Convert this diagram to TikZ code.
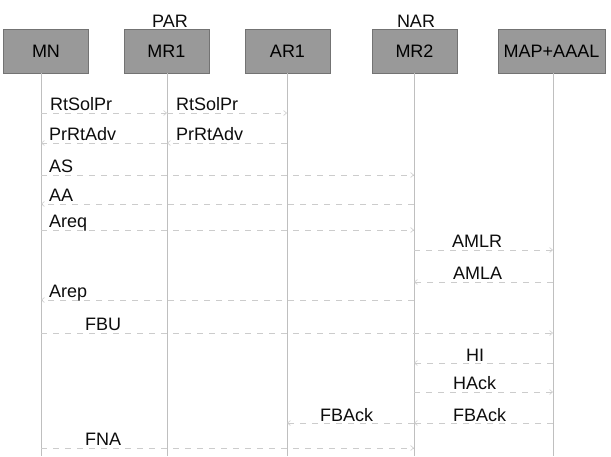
\documentclass[tikz,border=0pt]{standalone}
\usepackage{fontspec}
\setmainfont{Liberation Sans}
\usetikzlibrary{arrows.meta}
\begin{document}
\begin{tikzpicture}[x=1pt,y=-1pt,
  ent/.style={draw=black!55,fill=black!40,line width=0.6pt,minimum height=44pt,inner sep=0pt,
    font=\fontsize{18}{20}\selectfont,text=black},
  life/.style={draw=black!25,line width=0.6pt},
  msg/.style={draw=black!20,line width=0.6pt,dash pattern=on 6pt off 6pt,
    -{Straight Barb[length=3pt,width=5pt]}},
  lbl/.style={anchor=base west,inner sep=0pt,font=\fontsize{18}{20}\selectfont,text=black!95},
  hdr/.style={anchor=base,inner sep=0pt,font=\fontsize{18}{20}\selectfont,text=black!95}]
\useasboundingbox (0,0) rectangle (611,456);
\fill[white] (0,0) rectangle (611,456);
% entities
\node[ent,minimum width=85pt] (MN)  at (46,51)    {MN};
\node[ent,minimum width=85pt] (MR1) at (166.5,51) {MR1};
\node[ent,minimum width=85pt] (AR1) at (287.5,51) {AR1};
\node[ent,minimum width=85pt] (MR2) at (414.5,51) {MR2};
\node[ent,minimum width=107pt] (MAP) at (551.5,51) {MAP+AAAL};
\node[hdr] (par) at (170,27) {PAR};
\node[hdr] (nar) at (416,27) {NAR};
% lifelines
\coordinate (mnT) at (41,73);   \coordinate (mnB) at (41,456);
\coordinate (mr1T) at (167,73); \coordinate (mr1B) at (167,456);
\coordinate (ar1T) at (287,73); \coordinate (ar1B) at (287,456);
\coordinate (mr2T) at (414,73); \coordinate (mr2B) at (414,456);
\coordinate (mapT) at (553,73); \coordinate (mapB) at (553,456);
\draw[life] (mnT) -- (mnB);
\draw[life] (mr1T) -- (mr1B);
\draw[life] (ar1T) -- (ar1B);
\draw[life] (mr2T) -- (mr2B);
\draw[life] (mapT) -- (mapB);
% messages
\draw[msg] (mnT |- 0,113) -- (mr1T |- 0,113);
\node[lbl] (l1) at (50,110) {RtSolPr};
\draw[msg] (mr1T |- 0,113) -- (ar1T |- 0,113);
\node[lbl] (l2) at (176,110) {RtSolPr};
\draw[msg] (ar1T |- 0,143) -- (mr1T |- 0,143);
\node[lbl] (l3) at (176,140) {PrRtAdv};
\draw[msg] (mr1T |- 0,143) -- (mnT |- 0,143);
\node[lbl] (l4) at (49,140) {PrRtAdv};
\draw[msg] (mnT |- 0,175) -- (mr2T |- 0,175);
\node[lbl] (l5) at (49,172) {AS};
\draw[msg] (mr2T |- 0,204) -- (mnT |- 0,204);
\node[lbl] (l6) at (49,201) {AA};
\draw[msg] (mnT |- 0,230) -- (mr2T |- 0,230);
\node[lbl] (l7) at (49,227) {Areq};
\draw[msg] (mr2T |- 0,250) -- (mapT |- 0,250);
\node[lbl] (l8) at (452,247) {AMLR};
\draw[msg] (mapT |- 0,282) -- (mr2T |- 0,282);
\node[lbl] (l9) at (453,279) {AMLA};
\draw[msg] (mr2T |- 0,300) -- (mnT |- 0,300);
\node[lbl] (l10) at (49,297) {Arep};
\draw[msg] (mnT |- 0,333) -- (mapT |- 0,333);
\node[lbl] (l11) at (85,330) {FBU};
\draw[msg] (mapT |- 0,363) -- (mr2T |- 0,363);
\node[lbl] (l12) at (466,361) {HI};
\draw[msg] (mr2T |- 0,392) -- (mapT |- 0,392);
\node[lbl] (l13) at (453,389) {HAck};
\draw[msg] (mr2T |- 0,423) -- (ar1T |- 0,423);
\node[lbl] (l14) at (320,421) {FBAck};
\draw[msg] (mapT |- 0,423) -- (mr2T |- 0,423);
\node[lbl] (l15) at (453,421) {FBAck};
\draw[msg] (mnT |- 0,448) -- (mr2T |- 0,448);
\node[lbl] (l16) at (85,445) {FNA};
\end{tikzpicture}
\end{document}
